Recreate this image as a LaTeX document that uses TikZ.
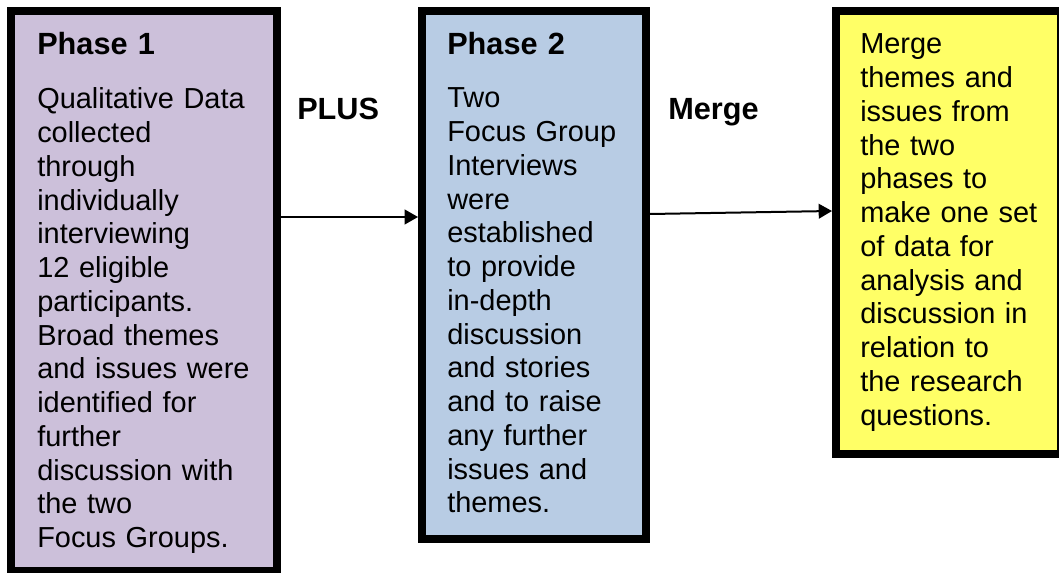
\documentclass[tikz,border=0pt]{standalone}
\usepackage{fontspec}
\setmainfont{Liberation Sans}
\usetikzlibrary{arrows.meta,positioning}
\definecolor{lilac1}{HTML}{CCC0DA}
\definecolor{blue1}{HTML}{B8CCE4}
\definecolor{yellow1}{HTML}{FFFF66}
\definecolor{ink}{HTML}{000000}
\tikzset{
  phasebox/.style={draw=ink,line width=6pt,inner sep=0pt},
  boxtext/.style={anchor=base west,inner sep=0pt,text width=200pt,align=left,
                  font=\fontsize{21.7pt}{25.3pt}\selectfont},
  boxhead/.style={boxtext,font=\fontsize{23pt}{26pt}\selectfont\bfseries},
  link/.style={-{Triangle[length=10pt,width=11pt]},ink,line width=1.5pt}
}

\begin{document}
\begin{tikzpicture}[x=0.75pt,y=-0.75pt]
  \useasboundingbox (0,0) rectangle (1059,573);
  % the three boxes
  \node[phasebox,fill=lilac1,minimum width=199.5pt,minimum height=420pt] (box1) at (144,291) {};
  \node[phasebox,fill=blue1,minimum width=168pt,minimum height=396pt] (box2) at (534,275) {};
  \node[phasebox,fill=yellow1,minimum width=168.75pt,minimum height=332.25pt] (box3) at (948.5,232.5) {};
  % phase 1
  \node[boxhead] (head1) at (37,55) {Phase 1};
  \node[boxtext] (text1) at (37,109) {Qualitative Data\\ collected\\ through\\ individually\\
    interviewing\\ 12 eligible\\ participants.\\ Broad themes\\ and issues were\\
    identified for\\ further\\ discussion with\\ the two\\ Focus Groups.};
  % phase 2
  \node[boxhead] (head2) at (447,55) {Phase 2};
  \node[boxtext] (text2) at (447,108) {Two\\ Focus Group\\ Interviews\\ were\\ established\\
    to provide\\ in-depth\\ discussion\\ and stories\\ and to raise\\ any further\\
    issues and\\ themes.};
  % merged data
  \node[boxtext] (text3) at (860,54) {Merge\\ themes and\\ issues from\\ the two\\ phases to\\
    make one set\\ of data for\\ analysis and\\ discussion in\\ relation to\\ the research\\
    questions.};
  % connectors
  \coordinate (a1) at (0,217);
  \coordinate (a2s) at (0,214);
  \coordinate (a2e) at (0,211);
  \draw[link] (box1.east |- a1) -- (box2.west |- a1);
  \draw[link] (box2.east |- a2s) -- (box3.west |- a2e);
  \node[boxhead] (plus) at (297,120) {PLUS};
  \node[boxhead] (merge) at (668,120) {Merge};
\end{tikzpicture}
\end{document}
